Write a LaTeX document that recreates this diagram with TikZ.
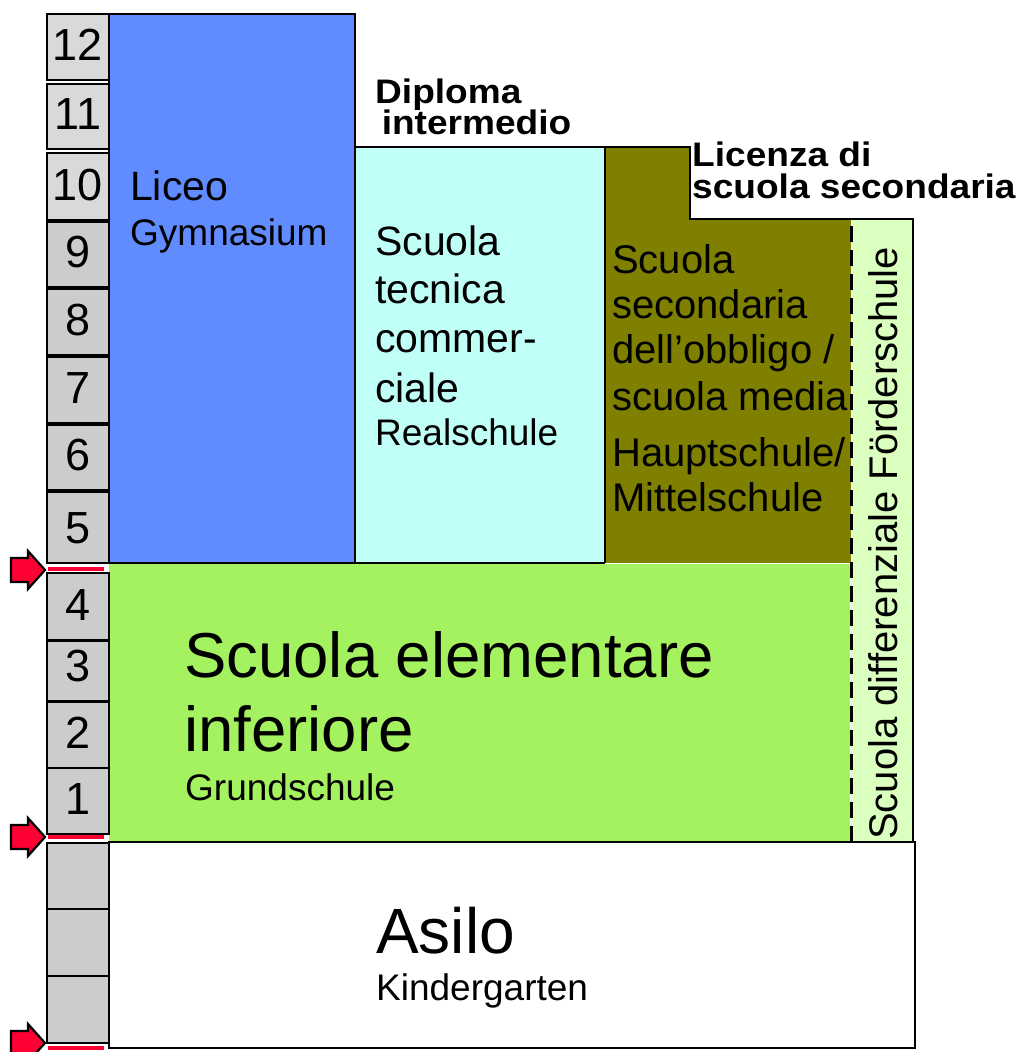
\documentclass[tikz,border=0pt]{standalone}
\usepackage{fontspec}
\setmainfont{Liberation Sans}
\newcommand\myfs[1]{\fontsize{#1}{#1}\selectfont}
\definecolor{cellgrey}{RGB}{204,204,204}
\definecolor{celllight}{RGB}{217,217,217}
\definecolor{liceoblue}{RGB}{96,140,255}
\definecolor{realcyan}{RGB}{192,255,248}
\definecolor{hauptolive}{RGB}{128,128,0}
\definecolor{grundgreen}{RGB}{165,242,97}
\definecolor{foerdergreen}{RGB}{218,255,190}
\definecolor{arrowred}{RGB}{255,0,51}
\tikzset{
  box/.style={draw=black, line width=2.5pt},
  lbl/.style={anchor=base west, inner sep=0pt, text=black},
  num/.style={anchor=base, inner sep=0pt, font=\myfs{45}},
  cell/.style={draw=black, line width=2.5pt},
  marker/.style={fill=arrowred, draw=black, line width=2.2pt},
  redline/.style={draw=arrowred, line width=4.5pt}
}
\begin{document}
\begin{tikzpicture}[x=1pt,y=-1pt]
\useasboundingbox (0,0) rectangle (1024,1052);
% regions
\path[fill=liceoblue] (109,14) rectangle (355,563);
\path[fill=realcyan] (356,147) rectangle (605,563);
\path[fill=hauptolive] (605,147) -- (690,147) -- (690,219) -- (851,219) -- (851,563) -- (605,563) -- cycle;
\path[fill=foerdergreen] (851,219) rectangle (913,842);
\path[fill=grundgreen] (109,564) rectangle (850,842);
\draw[white, line width=1pt] (605,563.5) -- (850,563.5);
\draw[box] (109,14) rectangle (355,563);
\draw[box] (356,147) -- (605,147);
\draw[black, line width=1.5pt] (605,147) -- (605,563);
\draw[box] (356,563) -- (605,563);
\draw[box] (605,147) -- (690,147) -- (690,219) -- (913,219) -- (913,842);
\draw[box, fill=white] (109,842) rectangle (915,1048);
\draw[black, line width=3pt, dash pattern=on 16pt off 8pt] (851,226) -- (851,842);
% grade cells
\foreach \t/\b/\c/\n in {14/80/celllight/12, 84/149/celllight/11, 153/220/celllight/10,
  222/287/cellgrey/9, 289/355/cellgrey/8, 357/423/cellgrey/7, 425/490/cellgrey/6,
  492/563/cellgrey/5, 573/640/cellgrey/4, 641/701/cellgrey/3, 702/768/cellgrey/2,
  768/834/cellgrey/1}{
  \draw[cell, fill=\c] (47,\t) rectangle (109,\b);
  \node[num] (g\n) at (78,{\b-20}) {\n};
}
\foreach \t/\b in {843/909, 909/976, 976/1043}{
  \draw[cell, fill=cellgrey] (47,\t) rectangle (109,\b);
}
% entry markers
\foreach \ty/\ly in {570/569, 837/837, 1043/1048}{
  \draw[marker] (11,\ty-12) -- (28,\ty-12) -- (28,\ty-19) -- (45,\ty) -- (28,\ty+19) -- (28,\ty+12) -- (11,\ty+12) -- cycle;
  \draw[redline] (48,\ly) -- (104,\ly);
}
% texts
\node[lbl, font=\myfs{41}] (liceo) at (130,200) {Liceo};
\node[lbl, font=\myfs{37}] (gymn) at (130,245) {Gymnasium};

\node[lbl, font=\myfs{41}] (rs1) at (375,255) {Scuola};
\node[lbl, font=\myfs{41}] (rs2) at (375,303) {tecnica};
\node[lbl, font=\myfs{41}] (rs3) at (375,352) {commer-};
\node[lbl, font=\myfs{41}] (rs4) at (375,402) {ciale};
\node[lbl, font=\myfs{37}] (rs5) at (375,445) {Realschule};

\node[lbl, font=\myfs{40}] (hs1) at (612,273) {Scuola};
\node[lbl, font=\myfs{40}] (hs2) at (612,318) {secondaria};
\node[lbl, font=\myfs{40}] (hs3) at (612,363) {dell’obbligo /};
\node[lbl, font=\myfs{40}] (hs4) at (612,410) {scuola media};
\node[lbl, font=\myfs{40}] (hs5) at (612,466) {Hauptschule/};
\node[lbl, font=\myfs{40}] (hs6) at (612,511) {Mittelschule};

\node[lbl, font=\myfs{63.5}] (gs1) at (184,677) {Scuola elementare};
\node[lbl, font=\myfs{63.5}] (gs2) at (184,751) {inferiore};
\node[lbl, font=\myfs{37}] (gs3) at (185,800) {Grundschule};

\node[lbl, font=\myfs{64}] (ki1) at (376,953) {Asilo};
\node[lbl, font=\myfs{37}] (ki2) at (376,1000) {Kindergarten};

\node[lbl, xscale=1.09, align=left, font={\fontsize{34}{31}\selectfont\bfseries\lineskiplimit=-60pt}] (dip) at (375,134) {Diploma\\\hspace*{6pt}intermedio};
\node[lbl, xscale=1.09, align=left, font={\fontsize{34}{32}\selectfont\bfseries\lineskiplimit=-60pt}] (lic) at (692,198) {Licenza di\\scuola secondaria};

\node[lbl, font=\myfs{40}, rotate=90] (foe) at (897,840) {Scuola differenziale Förderschule};
\end{tikzpicture}
\end{document}
